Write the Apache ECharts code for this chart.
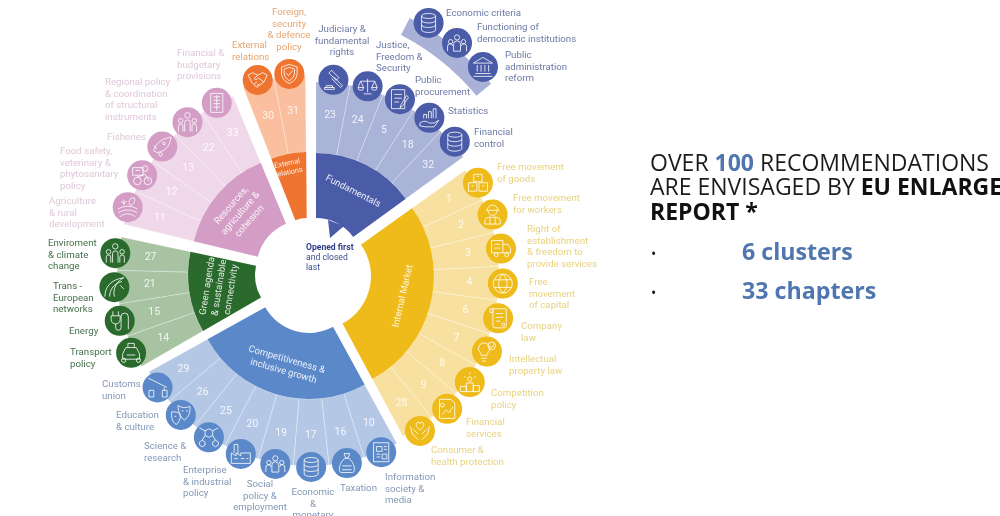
<!DOCTYPE html>
<html><head><meta charset="utf-8">
<style>html,body{margin:0;padding:0;background:#fff;overflow:hidden}#c{width:1000px;height:516px}</style>
<script src="https://cdn.jsdelivr.net/npm/echarts@6/dist/echarts.min.js"></script>
</head><body><div id="c"></div>
<script>
// ---- DATA ----
const clusterNames = ['Fundamentals','Internal Market','Competitiveness &\ninclusive growth','Green agenda\n& sustainable\nconnectivity','Resources,\nagriculture &\ncohesion','External\nrelations'];
const fundamentalsChapters = ['23','24','5','18','32'];
const internalMarketChapters = ['1','2','3','4','6','7','8','9','28'];
const competitivenessChapters = ['10','16','17','19','20','25','26','29'];
const greenChapters = ['14','15','21','27'];
const resourcesChapters = ['11','12','13','22','33'];
const externalChapters = ['30','31'];
const extraFundamentals = ['Economic criteria','Functioning of\ndemocratic institutions','Public\nadministration\nreform'];
const fundamentalsNames = ['Judiciary &\nfundamental\nrights','Justice,\nFreedom &\nSecurity','Public\nprocurement','Statistics','Financial\ncontrol'];
const internalMarketNames = ['Free movement\nof goods','Free movement\nfor workers','Right of\nestablishment\n& freedom to\nprovide services','Free\nmovement\nof capital','Company\nlaw','Intellectual\nproperty law','Competition\npolicy','Financial\nservices','Consumer &\nhealth protection'];
const competitivenessNames = ['Information\nsociety &\nmedia','Taxation','Economic\n&\nmonetary','Social\npolicy &\nemployment','Enterprise\n& industrial\npolicy','Science &\nresearch','Education\n& culture','Customs\nunion'];
const greenNames = ['Transport\npolicy','Energy','Trans -\nEuropean\nnetworks','Enviroment\n& climate\nchange'];
const resourcesNames = ['Agriculture\n& rural\ndevelopment','Food safety,\nveterinary &\nphytosanitary\npolicy','Fisheries','Regional policy\n& coordination\nof structural\ninstruments','Financial &\nbudgetary\nprovisions'];
const externalNames = ['External\nrelations','Foreign,\nsecurity\n& defence\npolicy'];

// ---- LAYOUT / STYLE ----
const geo = [
 {c:[316,264],a:[90,36],r0:46,r1:111,r2:182,ri:185,rot:-27,dark:'#4a5ba8',light:'#aab3d8',text:'#6e7aa6',chap:fundamentalsChapters,names:fundamentalsNames,ic:['gavel','scale','doc','stat','coins'],
  pos:[[342,29,'center'],[376,45],[415,80],[448,111],[474,132]]},
 {c:[317,276],a:[35.5,-61.8],r0:54,r1:117,r2:182,ri:186,rot:77,dark:'#efbb1b',light:'#f8e1a0',text:'#e8d27f',chap:internalMarketChapters,names:internalMarketNames,ic:['box','worker','truck','globe','scroll','bulb','podium','chart','heart'],
  pos:[[497,167],[513,198],[527,229],[529,282],[521,326],[509,359],[491,393],[466,422],[431,450]]},
 {c:[309,283],a:[-61.3,-151],r0:50,r1:116,r2:183,ri:184,rot:-16,dark:'#5a88c8',light:'#b4c8e6',text:'#8398b6',chap:competitivenessChapters,names:competitivenessNames,ic:['tablet','tax','coins','people','factory','molecule','mask','barrier'],
  pos:[[385,477],[340,488],[313,492,'center'],[260,484,'center'],[183,470],[144,446],[116,415],[102,384]]},
 {c:[300,275],a:[210,168],r0:45,r1:112,r2:183,ri:186,rot:81,dark:'#2a6a2d',light:'#a7c3a2',text:'#46714c',chap:greenChapters,names:greenNames,ic:['car','plug','wave','group'],
  pos:[[70,352],[69,331],[53,286],[48,243]]},
 {c:[304.5,268],a:[166.4,112.6],r0:48,r1:114,r2:186,ri:187,rot:49,dark:'#d49dc6',light:'#efd8e9',text:'#e0c8da',chap:resourcesChapters,names:resourcesNames,ic:['field','form','fish','group','list'],
  pos:[[49,201],[60,151],[107,137],[105,82],[177,53]]},
 {c:[307,250],a:[111.4,90.5],r0:32,r1:98,r2:175,ri:177,rot:11,off:[-3,-16],dark:'#ef7430',light:'#f9bf9e',text:'#e6a570',chap:externalChapters,names:externalNames,ic:['shake','shield'],
  pos:[[232,45],[289,12,'center']]}
];
const band = {c:[290,250],a:[62.7,39.6],r0:242,r1:261,ri:266,color:'#a9b2d6',dark:'#4a5ba8',text:'#6e7aa6',names:extraFundamentals,ic:['coins','people','building'],
  iconAngles:[58.6,51.1,43.5],pos:[[446,13],[477,27],[505,55]]};

const icons = {
 coins:'M5 5a7 2.5 0 1 0 14 0a7 2.5 0 1 0 -14 0M5 5v14a7 2.5 0 0 0 14 0V5M5 9.5a7 2.5 0 0 0 14 0M5 14a7 2.5 0 0 0 14 0',
 people:'M9 4a3 3 0 1 0 6 0a3 3 0 1 0 -6 0M2 9a2.5 2.5 0 1 0 5 0a2.5 2.5 0 1 0 -5 0M17 9a2.5 2.5 0 1 0 5 0a2.5 2.5 0 1 0 -5 0M8 20v-8a4 4 0 0 1 8 0v8zM1 20v-5a3 3 0 0 1 6 -1M23 20v-5a3 3 0 0 0 -6 -1',
 group:'M9 4a3 3 0 1 0 6 0a3 3 0 1 0 -6 0M2 10a2.5 2.5 0 1 0 5 0a2.5 2.5 0 1 0 -5 0M17 10a2.5 2.5 0 1 0 5 0a2.5 2.5 0 1 0 -5 0M9 22v-10a3 3 0 0 1 6 0v10M2 22v-6a2.500 2.500 0 0 1 5 0v6M17 22v-6a2.500 2.500 0 0 1 5 0v6',
 building:'M2 9L12 3L22 9ZM4 20H20M2 23H22M6 11V18M10 11V18M14 11V18M18 11V18',
 gavel:'M10 2L18 10L15 13L7 5ZM12 9L22 19L20 21L10 11M2 21H13V23H2ZM4 21V19H11V21',
 scale:'M12 3V20M7 22H17M3 6H21M3 6L0 14H7ZM21 6L17 14H24ZM0 14a3.500 3.500 0 0 0 7 0M17 14a3.500 3.500 0 0 0 7 0',
 doc:'M4 2H18V22H4ZM7 7H15M7 11H15M7 15H12M20 8L14 18L13 21L16 19L22 10Z',
 stat:'M2 17C6 14 9 15 12 17H17L22 14L17 21H8L2 20ZM6 12V8H9V12M11 12V5H14V12M16 12V2H19V12',
 box:'M8 2H16V9H8ZM3 10H11V18H3ZM13 10H21V18H13ZM11 4H13M6 13H8M16 13H18',
 worker:'M6 7a6 6 0 0 1 12 0M4 7H20M7 8a5 5 0 0 0 10 0M3 23V19a5 5 0 0 1 5 -4H16a5 5 0 0 1 5 4V23ZM9 15V23M15 15V23',
 truck:'M2 4H14V17H2ZM14 8H19L22 12V17H14M5 19a2 2 0 1 0 4 0a2 2 0 1 0 -4 0M16 19a2 2 0 1 0 4 0a2 2 0 1 0 -4 0M5 8H11M5 12H11',
 globe:'M2 12a10 10 0 1 0 20 0a10 10 0 1 0 -20 0M12 2C6 8 6 16 12 22M12 2C18 8 18 16 12 22M3 8H21M3 16H21',
 scroll:'M5 2H19V20a2 2 0 0 1 -2 2H7a2 2 0 0 1 -2 -2ZM2 2H5V6H2ZM8 7H16M8 11H16M8 15H13M16 17a1.500 1.500 0 1 0 .01 0',
 bulb:'M4 9a6 6 0 1 1 12 0c0 3 -3 4 -3 7H7c0 -3 -3 -4 -3 -7ZM7 19H13M8 22H12M18 2a4 4 0 1 0 .01 0M16 6L18 8L21 4',
 podium:'M8 13H16V23H8ZM1 17H8V23H1ZM16 16H23V23H16ZM12 6a2.500 2.500 0 1 0 .01 0M12 1V3M5 5L7 7M19 5L17 7',
 chart:'M4 2H16L20 6V22H4ZM7 18L11 13L14 16L18 10M7 6a2 2 0 1 0 .01 0',
 heart:'M12 12C8 8 7 6 9 4C10.500 3 12 4 12 5C12 4 13.500 3 15 4C17 6 16 8 12 12ZM2 8L4 16L10 22M22 8L20 16L14 22M5 11L10 16M19 11L14 16',
 tablet:'M3 2H19V22H3ZM6 6H12V11H6ZM14 6H17M14 9H17M6 14H10M12 14H17V19H12ZM6 17H10',
 tax:'M9 2H15L13 7H11ZM10 7C3 12 3 22 6 22H18C21 22 21 12 14 7ZM7 15H17M7 19H17',
 factory:'M2 23V12L7 15V12L12 15V12L22 12V23ZM5 12V3H9V13M5 18H9M12 18H16M18 18H20',
 molecule:'M8 6L12 4L16 6V11L12 13L8 11ZM2 18L5 16L8 18V21L5 23L2 21ZM16 18L19 16L22 18V21L19 23L16 21ZM8 11L5 16M16 11L19 16M2 3L8 6M22 3L16 6',
 mask:'M9 2C13 5 18 5 22 3C23 9 21 15 16 18C12 16 9 9 9 2ZM2 9C5 9 8 9 11 11C13 16 9 22 7 23C3 21 1 15 2 9ZM13 8H15M18 8H20M5 14H7',
 barrier:'M2 2L22 12M3 15H8V22H3ZM17 15H22V22H17ZM19 12V15',
 car:'M4 15L7 9H17L20 15V20H4ZM9 9V5H15V9M3 21a2 2 0 1 0 4 0a2 2 0 1 0 -4 0M17 21a2 2 0 1 0 4 0a2 2 0 1 0 -4 0M8 16H16',
 plug:'M3 2V7M9 2V7M1 7H11V11a5 5 0 0 1 -10 0ZM6 16V20a3 3 0 0 0 6 0V8a4 4 0 0 1 8 0V22',
 wave:'M2 22C2 12 8 4 22 2C14 6 10 14 12 22M7 22C7 14 12 8 20 6M18 10L22 14',
 field:'M2 14C8 10 16 10 22 14M2 18C8 14 16 14 22 18M4 22C9 18 15 18 20 22M15 10C12 6 14 2 19 2C20 6 19 9 15 10ZM8 10V4M5 6L8 8L11 6',
 form:'M2 4H13V12H2ZM15 2a3 3 0 1 0 .01 0M3 18a4 4 0 1 0 8 0a4 4 0 1 0 -8 0M14 18a4 4 0 1 0 8 0a4 4 0 1 0 -8 0M5 7H10M7 14L15 11L19 18',
 fish:'M2 18C6 6 14 4 22 2C21 10 18 18 6 20ZM2 12L6 16M14 8a1.500 1.500 0 1 0 .01 0M8 22a2 2 0 1 0 4 0a2 2 0 1 0 -4 0',
 list:'M5 1H19V23H5ZM8 5H16M8 9H16M8 13H16M8 17H16M12 3V21',
 shake:'M1 7L6 4L12 7L18 4L23 7M1 7L5 15L11 21L19 15L23 7M12 7L8 11C10 13 12 11 13 10L19 15M8 17L11 15M11 19L14 17',
 shield:'M12 1L21 4V11C21 17 17 21 12 23C7 21 3 17 3 11V4ZM12 4.500L18 6.500V11C18 15 15 18 12 20C9 18 6 15 6 11V6.500ZM8 11L11 14L16 8'
};

// ---- OPTION ----
const series=[], polar=[], angleAxis=[], radiusAxis=[], graphic=[];
function addPolar(c){
  const i=polar.length;
  polar.push({center:[c[0],c[1]],radius:320});
  angleAxis.push({polarIndex:i,type:'value',min:0,max:360,startAngle:0,clockwise:false,show:false});
  radiusAxis.push({polarIndex:i,type:'value',min:0,max:320,show:false});
  return i;
}
function addIcons(pi,r,angles,iconKeys,color){
  series.push({type:'scatter',coordinateSystem:'polar',polarIndex:pi,z:4,silent:true,symbol:'circle',symbolSize:30,
    itemStyle:{color:color,opacity:1},data:angles.map(a=>[r,(a+360)%360])});
  series.push({type:'scatter',coordinateSystem:'polar',polarIndex:pi,z:5,silent:true,symbolSize:19,symbolKeepAspect:true,
    itemStyle:{color:'rgba(0,0,0,0)',borderColor:'rgba(255,255,255,.9)',borderWidth:0.9,opacity:1},
    data:angles.map((a,i)=>({value:[r,(a+360)%360],symbol:'path://'+icons[iconKeys[i]]}))});
}
function addNames(names,pos,color){
  names.forEach((t,i)=>{
    const p=pos[i];
    graphic.push({type:'text',z:20,silent:true,x:p[0],y:p[1]-5,
      style:{text:t,fill:color,font:'9.7px Roboto',lineHeight:11.6,align:p[2]==='center'?'center':'left',verticalAlign:'top'}});
  });
}

// extra arc band
series.push({type:'pie',silent:true,z:1,center:band.c,radius:[band.r0,band.r1],startAngle:band.a[0],endAngle:band.a[1],
  label:{show:false},labelLine:{show:false},animation:false,itemStyle:{color:band.color},data:[{value:band.names.length,name:'Pre-accession'}]});
addIcons(addPolar(band.c),band.ri,band.iconAngles,band.ic,band.dark);
addNames(band.names,band.pos,band.text);

geo.forEach((g,k)=>{
  const n=g.chap.length, step=(g.a[1]-g.a[0])/n;
  series.push({type:'pie',silent:true,z:2,center:g.c,radius:[g.r1,g.r2],startAngle:g.a[0],endAngle:g.a[1],clockwise:true,animation:false,
    avoidLabelOverlap:false,labelLine:{show:false},
    itemStyle:{color:g.light,borderColor:'rgba(255,255,255,.4)',borderWidth:0.7},
    label:{show:true,position:'inside',formatter:'{b}',color:'rgba(255,255,255,.85)',fontFamily:'Roboto',fontSize:10.5},
    data:g.chap.map(c=>({value:1,name:c}))});
  series.push({type:'pie',silent:true,z:3,center:g.c,radius:[g.r0,g.r1],startAngle:g.a[0],endAngle:g.a[1],clockwise:true,animation:false,
    avoidLabelOverlap:false,labelLine:{show:false},
    itemStyle:{color:g.dark},
    label:{show:true,position:'inside',rotate:g.rot,offset:g.off||[0,0],formatter:'{b}',align:'center',color:'rgba(255,255,255,.88)',fontFamily:'Roboto',fontSize:k===5?7.2:9.5,lineHeight:k===5?9:12},
    data:[{value:n,name:clusterNames[k]}]});
  addIcons(addPolar(g.c),g.ri,g.chap.map((_,i)=>g.a[0]+step*(i+.5)),g.ic,g.dark);
  addNames(g.names,g.pos,g.text);
});

// hub pointer + hub text
graphic.push({type:'polygon',z:6,silent:true,shape:{points:[[328,220],[330,238],[344,226]]},style:{fill:'#4a5ba8'}});
const hub={fontFamily:'Roboto',fontSize:8.6,lineHeight:10};
graphic.push({type:'text',z:20,silent:true,x:306,y:243,style:{text:'{b|Opened first}\n{r|and closed}\n{r|last}',
  rich:{b:{...hub,fontWeight:'bold',fill:'#2f3f8a'},r:{...hub,fill:'#3d4b8f'}}}});

// right-hand text
const head={fontFamily:'"Open Sans"',fontSize:23,lineHeight:24.5};
graphic.push({type:'text',z:20,silent:true,x:650,y:152,style:{
  text:'{a|OVER }{h|100}{a| RECOMMENDATIONS}\n{a|ARE ENVISAGED BY }{b|EU ENLARGE}\n{b|REPORT *}',
  rich:{a:{...head,fill:'#1c1c1c'},h:{...head,fontWeight:'bold',fill:'#4f76ae'},b:{...head,fontWeight:'bold',fill:'#111'}}}});
[['•',651,248,'#111'],['•',651,287,'#111']].forEach(b=>graphic.push({type:'text',silent:true,z:20,x:b[1],y:b[2],style:{text:b[0],fill:b[3],font:'14px "Open Sans"'}}));
[['6 clusters',742,242],['33 chapters',742,281]].forEach(b=>graphic.push({type:'text',silent:true,z:20,x:b[1],y:b[2],style:{text:b[0],fill:'#4f76ae',font:'bold 23.2px "Open Sans"'}}));

const chart=echarts.init(document.getElementById('c'),null,{renderer:'canvas'});
chart.setOption({animation:false,backgroundColor:'#fff',tooltip:{show:false},polar,angleAxis,radiusAxis,series,graphic:{elements:graphic}});
</script></body></html>
